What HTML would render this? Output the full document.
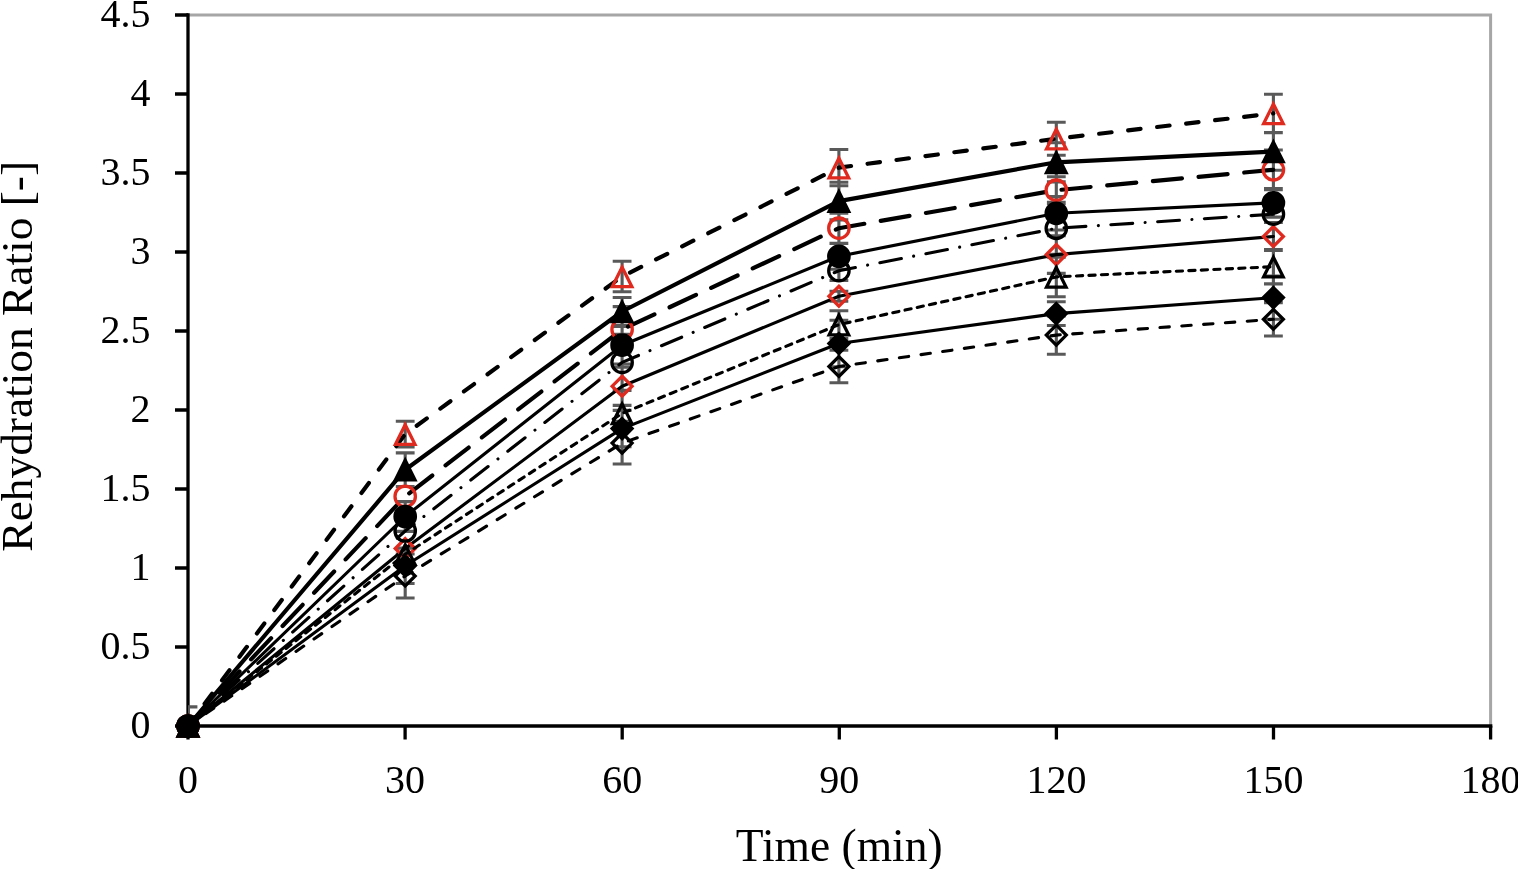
<!DOCTYPE html>
<html><head><meta charset="utf-8"><title>Rehydration Ratio</title>
<style>html,body{margin:0;padding:0;background:#fff;overflow:hidden}svg{display:block}</style>
</head><body>
<svg width="1518" height="869" viewBox="0 0 1518 869">
<rect width="1518" height="869" fill="#fff"/>
<path d="M188 15H1490.6V726" fill="none" stroke="#a6a6a6" stroke-width="3"/>
<defs><clipPath id="pa"><rect x="188" y="15" width="1302.6" height="711"/></clipPath></defs>
<g stroke="#000" stroke-width="3.3" fill="none">
<path d="M175 726H188M175 647H188M175 568H188M175 489H188M175 410H188M175 331H188M175 252H188M175 173H188M175 94H188M175 15H188"/>
<path d="M188 726V739.5M405.1 726V739.5M622.2 726V739.5M839.3 726V739.5M1056.4 726V739.5M1273.5 726V739.5M1490.6 726V739.5"/>
<path d="M188 13.25V727.75"/>
<path d="M186.25 726H1492.35"/>
</g>
<path clip-path="url(#pa)" d="M188 706.9V745.1M178.6 706.9H197.4M178.6 745.1H197.4M405.2 421.2V447M395.8 421.2H414.6M395.8 447H414.6M622.1 261.3V291.7M612.7 261.3H631.5M612.7 291.7H631.5M838.9 149.5V185.7M829.5 149.5H848.3M829.5 185.7H848.3M1056.3 122.2V155.2M1046.9 122.2H1065.7M1046.9 155.2H1065.7M1273.4 94.3V132.5M1264 94.3H1282.8M1264 132.5H1282.8M188 706.9V745.1M178.6 706.9H197.4M178.6 745.1H197.4M405.2 452.9V486.5M395.8 452.9H414.6M395.8 486.5H414.6M622.1 297.5V325.5M612.7 297.5H631.5M612.7 325.5H631.5M838.9 182.3V219.9M829.5 182.3H848.3M829.5 219.9H848.3M1056.3 142.7V181.9M1046.9 142.7H1065.7M1046.9 181.9H1065.7M1273.4 132.7V170.3M1264 132.7H1282.8M1264 170.3H1282.8M188 706.9V745.1M178.6 706.9H197.4M178.6 745.1H197.4M622.1 306.6V352.2M612.7 306.6H631.5M612.7 352.2H631.5M838.9 213.1V243.3M829.5 213.1H848.3M829.5 243.3H848.3M1056.3 176.7V203.7M1046.9 176.7H1065.7M1046.9 203.7H1065.7M1273.4 150V189.6M1264 150H1282.8M1264 189.6H1282.8M188 706.9V745.1M178.6 706.9H197.4M178.6 745.1H197.4M405.2 501.6V531.4M395.8 501.6H414.6M395.8 531.4H414.6M622.1 326.4V364M612.7 326.4H631.5M612.7 364H631.5M838.9 243.4V269.2M829.5 243.4H848.3M829.5 269.2H848.3M1056.3 196.6V230M1046.9 196.6H1065.7M1046.9 230H1065.7M1273.4 188.5V217.1M1264 188.5H1282.8M1264 217.1H1282.8M188 706.9V745.1M178.6 706.9H197.4M178.6 745.1H197.4M622.1 334.4V390.4M612.7 334.4H631.5M612.7 390.4H631.5M838.9 260.9V280.5M829.5 260.9H848.3M829.5 280.5H848.3M1056.3 202.3V254.3M1046.9 202.3H1065.7M1046.9 254.3H1065.7M188 706.9V745.1M178.6 706.9H197.4M178.6 745.1H197.4M622.1 367.2V405.2M612.7 367.2H631.5M612.7 405.2H631.5M838.9 291.2V301.2M829.5 291.2H848.3M829.5 301.2H848.3M1056.3 235.8V273.4M1046.9 235.8H1065.7M1046.9 273.4H1065.7M1273.4 222.5V250.5M1264 222.5H1282.8M1264 250.5H1282.8M188 706.9V745.1M178.6 706.9H197.4M178.6 745.1H197.4M622.1 405.4V421.4M612.7 405.4H631.5M612.7 421.4H631.5M838.9 310.7V338.5M829.5 310.7H848.3M829.5 338.5H848.3M1056.3 257.1V296.7M1046.9 257.1H1065.7M1046.9 296.7H1065.7M1273.4 249.5V283.9M1264 249.5H1282.8M1264 283.9H1282.8M188 706.9V745.1M178.6 706.9H197.4M178.6 745.1H197.4M405.2 548.1V583.5M395.8 548.1H414.6M395.8 583.5H414.6M622.1 410.4V446.8M612.7 410.4H631.5M612.7 446.8H631.5M838.9 320.2V366.8M829.5 320.2H848.3M829.5 366.8H848.3M1056.3 301.7V325.5M1046.9 301.7H1065.7M1046.9 325.5H1065.7M1273.4 276V319.2M1264 276H1282.8M1264 319.2H1282.8M188 706.9V745.1M178.6 706.9H197.4M178.6 745.1H197.4M405.2 554V598M395.8 554H414.6M395.8 598H414.6M622.1 422.2V464M612.7 422.2H631.5M612.7 464H631.5M838.9 350.2V382.8M829.5 350.2H848.3M829.5 382.8H848.3M1056.3 316V354.2M1046.9 316H1065.7M1046.9 354.2H1065.7M1273.4 302.6V336M1264 302.6H1282.8M1264 336H1282.8" fill="none" stroke="#595959" stroke-width="3.12"/>
<polyline points="188,726 405.2,434.1 622.1,276.5 838.9,167.6 1056.3,138.7 1273.4,113.4" fill="none" stroke="#000" stroke-width="4.17" stroke-linecap="round" stroke-linejoin="round" stroke-dasharray="12.51 16.68" stroke-dashoffset="1.4"/>
<path d="M188 716.62L197.75 736.17L178.25 736.17Z" fill="none" stroke="#df2a1f" stroke-width="3.3" stroke-miterlimit="10"/>
<path d="M405.2 424.73L414.95 444.28L395.45 444.28Z" fill="none" stroke="#df2a1f" stroke-width="3.3" stroke-miterlimit="10"/>
<path d="M622.1 267.12L631.85 286.68L612.35 286.68Z" fill="none" stroke="#df2a1f" stroke-width="3.3" stroke-miterlimit="10"/>
<path d="M838.9 158.22L848.65 177.78L829.15 177.78Z" fill="none" stroke="#df2a1f" stroke-width="3.3" stroke-miterlimit="10"/>
<path d="M1056.3 129.32L1066.05 148.88L1046.55 148.88Z" fill="none" stroke="#df2a1f" stroke-width="3.3" stroke-miterlimit="10"/>
<path d="M1273.4 104.03L1283.15 123.58L1263.65 123.58Z" fill="none" stroke="#df2a1f" stroke-width="3.3" stroke-miterlimit="10"/>
<polyline points="188,726 405.2,496.4 622.1,329.4 838.9,228.2 1056.3,190.2 1273.4,169.8" fill="none" stroke="#000" stroke-width="4.17" stroke-linecap="round" stroke-linejoin="round" stroke-dasharray="29.19 16.68"/>
<circle cx="188" cy="726" r="10.2" fill="none" stroke="#df2a1f" stroke-width="3.3"/>
<circle cx="405.2" cy="496.4" r="10.2" fill="none" stroke="#df2a1f" stroke-width="3.3"/>
<circle cx="622.1" cy="329.4" r="10.2" fill="none" stroke="#df2a1f" stroke-width="3.3"/>
<circle cx="838.9" cy="228.2" r="10.2" fill="none" stroke="#df2a1f" stroke-width="3.3"/>
<circle cx="1056.3" cy="190.2" r="10.2" fill="none" stroke="#df2a1f" stroke-width="3.3"/>
<circle cx="1273.4" cy="169.8" r="10.2" fill="none" stroke="#df2a1f" stroke-width="3.3"/>
<polyline points="188,726 405.2,548.5 622.1,386.2 838.9,296.2 1056.3,254.6 1273.4,236.5" fill="none" stroke="#000" stroke-width="3.12" stroke-linecap="round" stroke-linejoin="round"/>
<path d="M188 716.05L197.95 726L188 735.95L178.05 726Z" fill="none" stroke="#df2a1f" stroke-width="3.3" stroke-miterlimit="10"/>
<path d="M405.2 538.55L415.15 548.5L405.2 558.45L395.25 548.5Z" fill="none" stroke="#df2a1f" stroke-width="3.3" stroke-miterlimit="10"/>
<path d="M622.1 376.25L632.05 386.2L622.1 396.15L612.15 386.2Z" fill="none" stroke="#df2a1f" stroke-width="3.3" stroke-miterlimit="10"/>
<path d="M838.9 286.25L848.85 296.2L838.9 306.15L828.95 296.2Z" fill="none" stroke="#df2a1f" stroke-width="3.3" stroke-miterlimit="10"/>
<path d="M1056.3 244.65L1066.25 254.6L1056.3 264.55L1046.35 254.6Z" fill="none" stroke="#df2a1f" stroke-width="3.3" stroke-miterlimit="10"/>
<path d="M1273.4 226.55L1283.35 236.5L1273.4 246.45L1263.45 236.5Z" fill="none" stroke="#df2a1f" stroke-width="3.3" stroke-miterlimit="10"/>
<polyline points="188,726 405.2,469.7 622.1,311.5 838.9,201.1 1056.3,162.3 1273.4,151.5" fill="none" stroke="#000" stroke-width="4.17" stroke-linecap="round" stroke-linejoin="round"/>
<path d="M188 716.62L197.75 736.17L178.25 736.17Z" fill="#000" stroke="#000" stroke-width="3.3" stroke-miterlimit="10"/>
<path d="M405.2 460.32L414.95 479.88L395.45 479.88Z" fill="#000" stroke="#000" stroke-width="3.3" stroke-miterlimit="10"/>
<path d="M622.1 302.12L631.85 321.68L612.35 321.68Z" fill="#000" stroke="#000" stroke-width="3.3" stroke-miterlimit="10"/>
<path d="M838.9 191.72L848.65 211.28L829.15 211.28Z" fill="#000" stroke="#000" stroke-width="3.3" stroke-miterlimit="10"/>
<path d="M1056.3 152.93L1066.05 172.48L1046.55 172.48Z" fill="#000" stroke="#000" stroke-width="3.3" stroke-miterlimit="10"/>
<path d="M1273.4 142.12L1283.15 161.68L1263.65 161.68Z" fill="#000" stroke="#000" stroke-width="3.3" stroke-miterlimit="10"/>
<polyline points="188,726 405.2,516.5 622.1,345.2 838.9,256.3 1056.3,213.3 1273.4,202.8" fill="none" stroke="#000" stroke-width="3.12" stroke-linecap="round" stroke-linejoin="round"/>
<circle cx="188" cy="726" r="10.2" fill="#000" stroke="#000" stroke-width="3.3"/>
<circle cx="405.2" cy="516.5" r="10.2" fill="#000" stroke="#000" stroke-width="3.3"/>
<circle cx="622.1" cy="345.2" r="10.2" fill="#000" stroke="#000" stroke-width="3.3"/>
<circle cx="838.9" cy="256.3" r="10.2" fill="#000" stroke="#000" stroke-width="3.3"/>
<circle cx="1056.3" cy="213.3" r="10.2" fill="#000" stroke="#000" stroke-width="3.3"/>
<circle cx="1273.4" cy="202.8" r="10.2" fill="#000" stroke="#000" stroke-width="3.3"/>
<polyline points="188,726 405.2,531 622.1,362.4 838.9,270.7 1056.3,228.3 1273.4,214.2" fill="none" stroke="#000" stroke-width="3.12" stroke-linecap="round" stroke-linejoin="round" stroke-dasharray="21.875 12.5 0.001 12.5"/>
<circle cx="188" cy="726" r="10.2" fill="none" stroke="#000" stroke-width="3.3"/>
<circle cx="405.2" cy="531" r="10.2" fill="none" stroke="#000" stroke-width="3.3"/>
<circle cx="622.1" cy="362.4" r="10.2" fill="none" stroke="#000" stroke-width="3.3"/>
<circle cx="838.9" cy="270.7" r="10.2" fill="none" stroke="#000" stroke-width="3.3"/>
<circle cx="1056.3" cy="228.3" r="10.2" fill="none" stroke="#000" stroke-width="3.3"/>
<circle cx="1273.4" cy="214.2" r="10.2" fill="none" stroke="#000" stroke-width="3.3"/>
<polyline points="188,726 405.2,554.2 622.1,413.4 838.9,324.6 1056.3,276.9 1273.4,266.7" fill="none" stroke="#000" stroke-width="3.12" stroke-linecap="round" stroke-linejoin="round" stroke-dasharray="6.25 6.25"/>
<path d="M188 716.62L197.75 736.17L178.25 736.17Z" fill="none" stroke="#000" stroke-width="3.3" stroke-miterlimit="10"/>
<path d="M405.2 544.83L414.95 564.38L395.45 564.38Z" fill="none" stroke="#000" stroke-width="3.3" stroke-miterlimit="10"/>
<path d="M622.1 404.02L631.85 423.57L612.35 423.57Z" fill="none" stroke="#000" stroke-width="3.3" stroke-miterlimit="10"/>
<path d="M838.9 315.23L848.65 334.78L829.15 334.78Z" fill="none" stroke="#000" stroke-width="3.3" stroke-miterlimit="10"/>
<path d="M1056.3 267.52L1066.05 287.07L1046.55 287.07Z" fill="none" stroke="#000" stroke-width="3.3" stroke-miterlimit="10"/>
<path d="M1273.4 257.32L1283.15 276.88L1263.65 276.88Z" fill="none" stroke="#000" stroke-width="3.3" stroke-miterlimit="10"/>
<polyline points="188,726 405.2,565.8 622.1,428.6 838.9,343.5 1056.3,313.6 1273.4,297.6" fill="none" stroke="#000" stroke-width="3.12" stroke-linecap="round" stroke-linejoin="round"/>
<path d="M188 716.05L197.95 726L188 735.95L178.05 726Z" fill="#000" stroke="#000" stroke-width="3.3" stroke-miterlimit="10"/>
<path d="M405.2 555.85L415.15 565.8L405.2 575.75L395.25 565.8Z" fill="#000" stroke="#000" stroke-width="3.3" stroke-miterlimit="10"/>
<path d="M622.1 418.65L632.05 428.6L622.1 438.55L612.15 428.6Z" fill="#000" stroke="#000" stroke-width="3.3" stroke-miterlimit="10"/>
<path d="M838.9 333.55L848.85 343.5L838.9 353.45L828.95 343.5Z" fill="#000" stroke="#000" stroke-width="3.3" stroke-miterlimit="10"/>
<path d="M1056.3 303.65L1066.25 313.6L1056.3 323.55L1046.35 313.6Z" fill="#000" stroke="#000" stroke-width="3.3" stroke-miterlimit="10"/>
<path d="M1273.4 287.65L1283.35 297.6L1273.4 307.55L1263.45 297.6Z" fill="#000" stroke="#000" stroke-width="3.3" stroke-miterlimit="10"/>
<polyline points="188,726 405.2,576 622.1,443.1 838.9,366.5 1056.3,335.1 1273.4,319.3" fill="none" stroke="#000" stroke-width="3.12" stroke-linecap="round" stroke-linejoin="round" stroke-dasharray="9.375 12.5"/>
<path d="M188 716.05L197.95 726L188 735.95L178.05 726Z" fill="none" stroke="#000" stroke-width="3.3" stroke-miterlimit="10"/>
<path d="M405.2 566.05L415.15 576L405.2 585.95L395.25 576Z" fill="none" stroke="#000" stroke-width="3.3" stroke-miterlimit="10"/>
<path d="M622.1 433.15L632.05 443.1L622.1 453.05L612.15 443.1Z" fill="none" stroke="#000" stroke-width="3.3" stroke-miterlimit="10"/>
<path d="M838.9 356.55L848.85 366.5L838.9 376.45L828.95 366.5Z" fill="none" stroke="#000" stroke-width="3.3" stroke-miterlimit="10"/>
<path d="M1056.3 325.15L1066.25 335.1L1056.3 345.05L1046.35 335.1Z" fill="none" stroke="#000" stroke-width="3.3" stroke-miterlimit="10"/>
<path d="M1273.4 309.35L1283.35 319.3L1273.4 329.25L1263.45 319.3Z" fill="none" stroke="#000" stroke-width="3.3" stroke-miterlimit="10"/>
<g font-family="'Liberation Serif', 'DejaVu Serif', serif" font-size="40" fill="#000">
<text transform="translate(150.4 737.8) scale(1 1.025)" text-anchor="end">0</text>
<text transform="translate(150.4 658.8) scale(1 1.025)" text-anchor="end">0.5</text>
<text transform="translate(150.4 579.8) scale(1 1.025)" text-anchor="end">1</text>
<text transform="translate(150.4 500.8) scale(1 1.025)" text-anchor="end">1.5</text>
<text transform="translate(150.4 421.8) scale(1 1.025)" text-anchor="end">2</text>
<text transform="translate(150.4 342.8) scale(1 1.025)" text-anchor="end">2.5</text>
<text transform="translate(150.4 263.8) scale(1 1.025)" text-anchor="end">3</text>
<text transform="translate(150.4 184.8) scale(1 1.025)" text-anchor="end">3.5</text>
<text transform="translate(150.4 105.8) scale(1 1.025)" text-anchor="end">4</text>
<text transform="translate(150.4 26.8) scale(1 1.025)" text-anchor="end">4.5</text>
<text transform="translate(188 793.3) scale(1 1.025)" text-anchor="middle">0</text>
<text transform="translate(405.1 793.3) scale(1 1.025)" text-anchor="middle">30</text>
<text transform="translate(622.2 793.3) scale(1 1.025)" text-anchor="middle">60</text>
<text transform="translate(839.3 793.3) scale(1 1.025)" text-anchor="middle">90</text>
<text transform="translate(1056.4 793.3) scale(1 1.025)" text-anchor="middle">120</text>
<text transform="translate(1273.5 793.3) scale(1 1.025)" text-anchor="middle">150</text>
<text transform="translate(1490.6 793.3) scale(1 1.025)" text-anchor="middle">180</text>
</g>
<text font-family="'Liberation Serif', 'DejaVu Serif', serif" font-size="45.5" x="839.2" y="861" text-anchor="middle">Time (min)</text>
<text font-family="'Liberation Serif', 'DejaVu Serif', serif" font-size="45" transform="translate(32 356.3) rotate(-90)" text-anchor="middle" textLength="390.7" lengthAdjust="spacingAndGlyphs">Rehydration Ratio [-]</text>
</svg>
</body></html>
